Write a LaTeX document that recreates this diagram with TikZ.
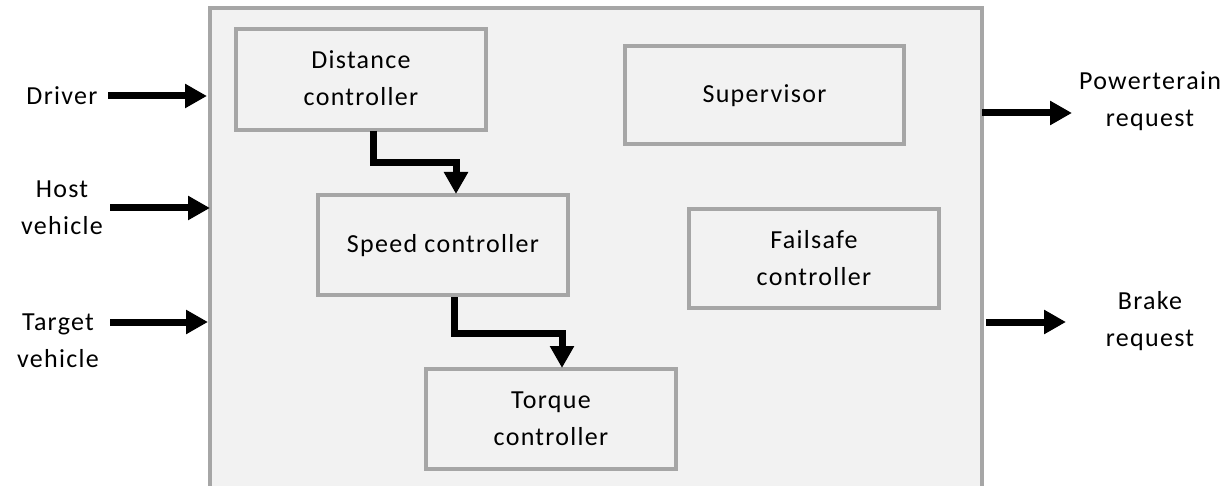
\documentclass[tikz,border=0pt]{standalone}
\usepackage{fontspec}
\setmainfont{Carlito}[LetterSpace=5]
\usetikzlibrary{arrows.meta}
\definecolor{boxfill}{HTML}{F2F2F2}
\definecolor{boxline}{HTML}{A6A6A6}
\tikzset{
  blk/.style={draw=boxline, fill=boxfill, line width=4pt},
  lbl/.style={align=center, font=\fontsize{26}{37}\selectfont, inner sep=0pt},
  flow/.style={line width=7pt, -{Triangle[length=22pt,width=23pt]}},
}
\begin{document}
\begin{tikzpicture}[x=1pt,y=-1pt]
\useasboundingbox (0,0) rectangle (1228,486);
\begin{scope}
\clip (0,0) rectangle (1228,486);
\draw[draw=boxline, fill=boxfill, line width=3.5pt] (210,8) rectangle (982,500);
\end{scope}
\draw[blk] (236,29) rectangle (486,130);
\node[lbl] (dist) at (361,78) {Distance\\controller};
\draw[blk] (625,46) rectangle (904,144);
\node[lbl] (sup) at (764.5,96) {Supervisor};
\draw[blk] (318,195) rectangle (568,295);
\node[lbl] (speed) at (443,246) {Speed controller};
\draw[blk] (689,209) rectangle (939,308);
\node[lbl] (fail) at (814,258.5) {Failsafe\\controller};
\draw[blk] (426,369) rectangle (676,469);
\node[lbl] (torque) at (551,419) {Torque\\controller};
% inner flows
\coordinate (d1) at (373,131);
\coordinate (s1) at (456,194);
\draw[flow] (d1) |- (420,163) -| (s1);
\coordinate (d2) at (454,297);
\coordinate (t1) at (562,368);
\draw[flow] (d2) |- (500,333) -| (t1);
% inputs
\node[lbl] (driver) at (62,96) {Driver};
\node[lbl] (host) at (62,208) {Host\\vehicle};
\node[lbl] (target) at (58,341) {Target\\vehicle};
\coordinate (i1) at (207,96);
\coordinate (i2) at (210,208);
\coordinate (i3) at (208,322);
\draw[flow] (108,96) -- (i1);
\draw[flow] (110,208) -- (i2);
\draw[flow] (110,322) -- (i3);
% outputs
\node[lbl] (pt) at (1150,101) {Powerterain\\request};
\node[lbl] (br) at (1150,321) {Brake\\request};
\coordinate (o1) at (982,113);
\coordinate (o2) at (986,322);
\draw[flow] (o1) -- (1072,113);
\draw[flow] (o2) -- (1066,322);
\end{tikzpicture}
\end{document}
